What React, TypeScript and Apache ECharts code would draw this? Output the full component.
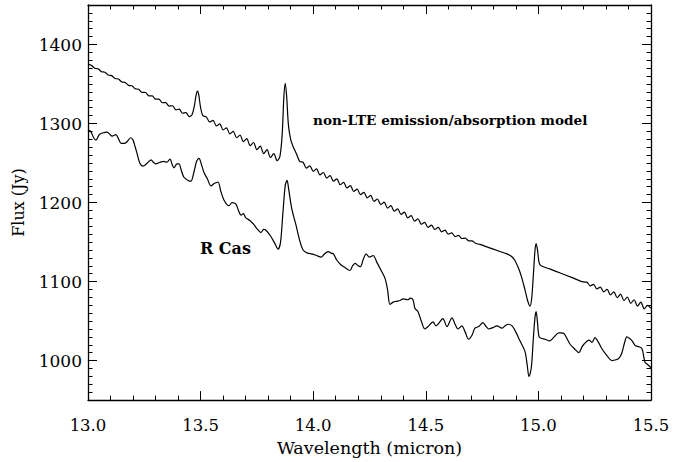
import React, { useEffect, useRef } from "react";
import * as echarts from "echarts";

// Wavelength axis (micron) and flux axis (Jy) ticks
const xTicks = [13.0, 13.5, 14.0, 14.5, 15.0, 15.5];
const yTickValues = [1000, 1100, 1200, 1300, 1400];

// non-LTE emission/absorption model spectrum
const modelWave = [
  13.0, 13.015, 13.03, 13.045, 13.06, 13.075, 13.09, 13.105, 13.12, 13.135,
  13.15, 13.165, 13.18, 13.195, 13.21, 13.225, 13.24, 13.255, 13.27, 13.285,
  13.3, 13.315, 13.33, 13.345, 13.36, 13.375, 13.39, 13.405, 13.42, 13.435,
  13.45, 13.462, 13.472, 13.48, 13.486, 13.492, 13.5, 13.51, 13.525, 13.54,
  13.555, 13.57, 13.585, 13.6, 13.615, 13.63, 13.645, 13.66, 13.675, 13.69,
  13.705, 13.72, 13.735, 13.75, 13.765, 13.78, 13.795, 13.81, 13.825, 13.84,
  13.852, 13.862, 13.87, 13.876, 13.882, 13.89, 13.9, 13.912, 13.925, 13.94,
  13.955, 13.97, 13.985, 14.0, 14.015, 14.03, 14.045, 14.06, 14.075, 14.09,
  14.105, 14.12, 14.135, 14.15, 14.165, 14.18, 14.195, 14.21, 14.225, 14.24,
  14.255, 14.27, 14.285, 14.3, 14.315, 14.33, 14.345, 14.36, 14.375, 14.39,
  14.405, 14.42, 14.435, 14.45, 14.465, 14.48, 14.495, 14.51, 14.525, 14.54,
  14.555, 14.57, 14.585, 14.6, 14.615, 14.63, 14.645, 14.66, 14.675, 14.69,
  14.705, 14.72, 14.74, 14.78, 14.82, 14.86, 14.88, 14.895, 14.91, 14.925,
  14.94, 14.952, 14.962, 14.97, 14.978, 14.985, 14.99, 14.996, 15.003, 15.012,
  15.05, 15.1, 15.15, 15.2, 15.215, 15.23, 15.245, 15.26, 15.275, 15.29,
  15.305, 15.32, 15.335, 15.35, 15.365, 15.38, 15.395, 15.41, 15.425, 15.44,
  15.455, 15.47, 15.485, 15.5,
];
const modelFlux = [
  1375, 1373.6, 1369.9, 1369.3, 1365.6, 1365, 1361.3, 1360.6, 1357, 1356.3,
  1352.6, 1352, 1348.3, 1347.7, 1344, 1343.4, 1339.4, 1339.3, 1335.1, 1335,
  1330.8, 1330.8, 1326.3, 1326.5, 1322, 1322.5, 1317.3, 1318.2, 1313, 1313.9,
  1308.7, 1311, 1322, 1336, 1341, 1336, 1320, 1310, 1308.5, 1302,
  1304, 1297, 1299.5, 1292, 1294.5, 1287, 1290, 1282, 1285.5, 1277,
  1281, 1272, 1276, 1267, 1271.5, 1262, 1267, 1257, 1262, 1253,
  1258, 1285, 1335, 1351, 1335, 1298, 1280, 1270, 1262, 1252,
  1251, 1243.5, 1246.5, 1239.5, 1242.5, 1235, 1238, 1231, 1234, 1227,
  1230, 1222.5, 1225.5, 1218.5, 1221.5, 1214, 1217, 1210, 1213, 1206,
  1209, 1201.5, 1204.5, 1197.5, 1200.5, 1193, 1196, 1189, 1192, 1185,
  1188, 1180.5, 1183.5, 1176.5, 1179.5, 1172.5, 1175, 1168.5, 1171.5, 1166,
  1168.5, 1163, 1165, 1160, 1161.5, 1157, 1158.5, 1154.5, 1155, 1151.5,
  1151.5, 1148.5, 1147, 1143, 1139, 1135, 1132, 1127, 1118, 1106,
  1090, 1076, 1069, 1078, 1110, 1140, 1148, 1140, 1124, 1120,
  1116, 1110.5, 1105, 1099.5, 1099.3, 1094.6, 1096.4, 1090.7, 1093, 1087,
  1090, 1083, 1087, 1079.5, 1084, 1076, 1080.5, 1072.5, 1077, 1069,
  1074, 1065.5, 1070, 1066,
];

// Observed spectrum of R Cas
const rcasWave = [
  13.0, 13.012, 13.025, 13.035, 13.05, 13.065, 13.084, 13.095, 13.107, 13.124,
  13.135, 13.147, 13.16, 13.17, 13.19, 13.2, 13.21, 13.218, 13.23, 13.245,
  13.26, 13.28, 13.29, 13.3, 13.32, 13.337, 13.35, 13.364, 13.375, 13.382,
  13.395, 13.404, 13.415, 13.426, 13.445, 13.457, 13.47, 13.482, 13.493, 13.505,
  13.515, 13.53, 13.546, 13.56, 13.577, 13.59, 13.604, 13.626, 13.64, 13.657,
  13.668, 13.68, 13.69, 13.7, 13.72, 13.737, 13.75, 13.768, 13.78, 13.79,
  13.81, 13.83, 13.844, 13.855, 13.865, 13.876, 13.884, 13.892, 13.905, 13.924,
  13.94, 13.955, 13.975, 13.995, 14.015, 14.035, 14.05, 14.066, 14.08, 14.09,
  14.105, 14.124, 14.14, 14.163, 14.175, 14.186, 14.2, 14.21, 14.222, 14.235,
  14.25, 14.266, 14.285, 14.3, 14.319, 14.33, 14.341, 14.355, 14.368, 14.385,
  14.4, 14.42, 14.432, 14.443, 14.452, 14.465, 14.48, 14.496, 14.51, 14.532,
  14.545, 14.554, 14.576, 14.594, 14.616, 14.63, 14.643, 14.66, 14.675, 14.69,
  14.705, 14.718, 14.735, 14.754, 14.768, 14.78, 14.8, 14.816, 14.838, 14.852,
  14.865, 14.883, 14.9, 14.918, 14.94, 14.95, 14.958, 14.964, 14.97, 14.978,
  14.985, 14.99, 14.996, 15.003, 15.015, 15.03, 15.05, 15.07, 15.09, 15.1,
  15.114, 15.14, 15.16, 15.18, 15.193, 15.203, 15.225, 15.238, 15.251, 15.265,
  15.282, 15.3, 15.327, 15.345, 15.358, 15.371, 15.382, 15.393, 15.405, 15.416,
  15.43, 15.442, 15.46, 15.473, 15.485, 15.5,
];
const rcasFlux = [
  1292, 1290, 1282, 1279, 1286, 1288, 1289, 1287, 1284, 1286,
  1281, 1275, 1275, 1276, 1282, 1279, 1270, 1262, 1250, 1246,
  1249, 1254, 1251, 1249, 1251, 1252, 1251, 1255, 1247, 1244,
  1249, 1249, 1240, 1232, 1228, 1227, 1238, 1252, 1256, 1247,
  1238, 1230, 1221, 1224, 1226, 1214, 1203, 1196, 1200, 1198,
  1190, 1184, 1186, 1181, 1177, 1172, 1167, 1162, 1166, 1165,
  1158, 1148, 1141, 1150, 1185, 1222, 1228, 1215, 1192, 1171,
  1152, 1140, 1136, 1135, 1133, 1131, 1135, 1138, 1136, 1135,
  1127, 1121, 1118, 1114, 1120, 1123, 1120, 1119, 1128, 1135,
  1131, 1133, 1123, 1115, 1104, 1090, 1071, 1074, 1075, 1076,
  1078, 1077, 1079, 1077, 1066, 1062, 1050, 1040, 1043, 1049,
  1044, 1046, 1053, 1043, 1054, 1046, 1040, 1044, 1036, 1027,
  1032, 1041, 1043, 1048, 1043, 1040, 1042, 1044, 1041, 1044,
  1046, 1044, 1036, 1025, 1012, 995, 980, 984, 995, 1030,
  1055, 1062, 1048, 1030, 1028, 1027, 1025, 1030, 1035, 1035,
  1034, 1021, 1015, 1010, 1017, 1021, 1026, 1023, 1029, 1024,
  1015, 1008, 1000, 1001, 1003, 1010, 1022, 1030, 1028, 1025,
  1019, 1018, 1015, 998, 995, 991,
];

const FONT = "DejaVu Serif";

const pairs = (xs: number[], ys: number[]) => xs.map((x, i) => [x, ys[i]]);

const tickStyle = { color: "#000", width: 1 };

function xAxisDef(position: "bottom" | "top", showLabels: boolean) {
  return {
    type: "value",
    position,
    min: xTicks[0],
    max: xTicks[xTicks.length - 1],
    interval: 0.5,
    axisLine: { show: true, lineStyle: { color: "#000", width: 1.3 } },
    axisTick: { show: true, inside: true, length: 9, lineStyle: tickStyle },
    minorTick: { show: true, splitNumber: 5, length: 4.5, lineStyle: tickStyle },
    splitLine: { show: false },
    minorSplitLine: { show: false },
    axisLabel: {
      show: showLabels,
      margin: 17,
      color: "#000",
      fontFamily: FONT,
      fontSize: 16.5,
      formatter: (v: number) => v.toFixed(1),
    },
    ...(showLabels
      ? {
          name: "Wavelength (micron)",
          nameLocation: "middle",
          nameGap: 36,
          nameTextStyle: { color: "#000", fontFamily: FONT, fontSize: 17.5 },
        }
      : {}),
  };
}

function yAxisDef(position: "left" | "right", showLabels: boolean) {
  return {
    type: "value",
    position,
    min: 950,
    max: 1450,
    splitNumber: 5,
    axisLine: { show: true, lineStyle: { color: "#000", width: 1.3 } },
    axisTick: { show: true, inside: true, length: 9, lineStyle: tickStyle },
    minorTick: { show: true, splitNumber: 10, length: 4.5, lineStyle: tickStyle },
    splitLine: { show: false },
    minorSplitLine: { show: false },
    axisLabel: {
      show: showLabels,
      margin: 6,
      color: "#000",
      fontFamily: FONT,
      fontSize: 17,
      formatter: (v: number) => (yTickValues.includes(v) ? String(v) : ""),
    },
    ...(showLabels
      ? {
          name: "Flux (Jy)",
          nameLocation: "middle",
          nameGap: 62,
          nameTextStyle: { color: "#000", fontFamily: FONT, fontSize: 16 },
        }
      : {}),
  };
}

export default function App() {
  const ref = useRef<HTMLDivElement>(null);

  useEffect(() => {
    if (!ref.current) return;
    const chart = echarts.init(ref.current, null, { renderer: "svg" });
    const lineStyle = { color: "#000", width: 1.2 };
    chart.setOption({
      animation: false,
      backgroundColor: "#fff",
      grid: { left: 88, right: 22, top: 5, bottom: 57, containLabel: false },
      xAxis: [xAxisDef("bottom", true), xAxisDef("top", false)],
      yAxis: [yAxisDef("left", true), yAxisDef("right", false)],
      series: [
        {
          name: "model",
          type: "line",
          xAxisIndex: 0,
          yAxisIndex: 0,
          data: pairs(modelWave, modelFlux),
          showSymbol: false,
          smooth: 0.3,
          lineStyle,
        },
        {
          name: "R Cas",
          type: "line",
          xAxisIndex: 0,
          yAxisIndex: 0,
          data: pairs(rcasWave, rcasFlux),
          showSymbol: false,
          smooth: 0.3,
          lineStyle,
        },
      ],
      graphic: [
        {
          type: "text",
          left: 313,
          top: 113,
          style: {
            text: "non-LTE emission/absorption model",
            fill: "#000",
            font: `bold 13.6px "${FONT}"`,
          },
        },
        {
          type: "text",
          left: 200,
          top: 240,
          style: {
            text: "R Cas",
            fill: "#000",
            font: `bold 16px "${FONT}"`,
          },
        },
      ],
    });
    return () => chart.dispose();
  }, []);

  return (
    <div
      ref={ref}
      style={{ position: "fixed", left: 0, top: 0, width: 673, height: 462, background: "#fff" }}
    />
  );
}
